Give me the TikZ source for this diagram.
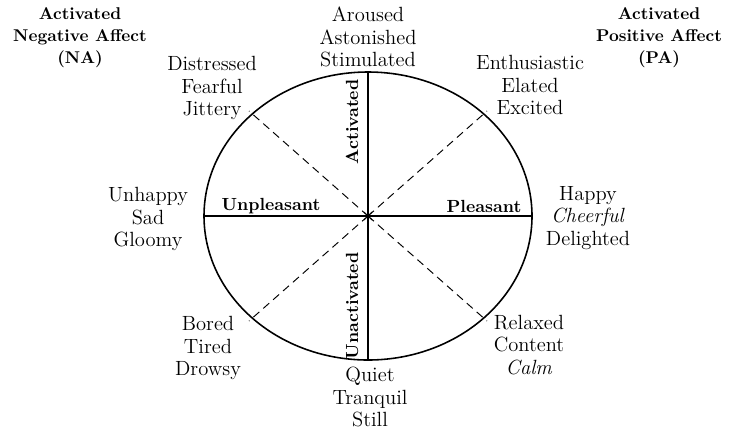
\documentclass[tikz,border=0pt]{standalone}
\usepackage{tikz}
\usetikzlibrary{positioning, calc}

\begin{document}
\begin{tikzpicture}[
    x=0.02cm, y=-0.02cm,
    word/.style={align=center, font=\fontsize{11.7}{12.6}\selectfont},
    corner/.style={align=center, font=\fontsize{9.7}{12.6}\selectfont\bfseries},
    axlab/.style={font=\fontsize{10}{12}\selectfont\bfseries},
    diag/.style={dash pattern=on 4.5pt off 3pt, line width=0.55pt},
    axisline/.style={line width=0.6pt},
  ]
  \useasboundingbox (0,0) rectangle (732,430);
  % --- circumplex ---
  \coordinate (c) at (368,216);
  \draw[line width=0.9pt] (c) ellipse [x radius=164, y radius=144];
  \coordinate (top) at (368,72);
  \coordinate (bot) at (368,360);
  \coordinate (lft) at (204,216);
  \coordinate (rgt) at (532,216);
  \draw[axisline] (top) -- (bot);
  \draw[axisline] (lft) -- (rgt);
  % dashed diagonals (45 deg on the ellipse)
  \foreach \dx/\dy in {-1/-1, 1/-1, -1/1, 1/1}{
    \draw[diag] (c) -- ++(\dx*119,\dy*105);
  }
  % centre mark
  \draw[line width=0.5pt] ($(c)+(-4,-4)$) -- ($(c)+(4,4)$) ($(c)+(-4,4)$) -- ($(c)+(4,-4)$);
  % --- axis labels ---
  \node[axlab, rotate=90] (act) at (352,122) {Activated};
  \node[axlab, rotate=90] (unact) at (352,306) {Unactivated};
  \node[axlab] (unpl) at (271,206) {Unpleasant};
  \node[axlab] (pl) at (484,206) {Pleasant};
  % --- corner titles ---
  \node[corner] (na) at (80,38) {Activated\\Negative Affect\\(NA)};
  \node[corner] (pa) at (659,38) {Activated\\Positive Affect\\(PA)};
  % --- affect words round the circle ---
  \node[word] (arousal) at (368,37) {Aroused\\Astonished\\Stimulated};
  \node[word] (distress) at (212,88) {Distressed\\Fearful\\Jittery};
  \node[word] (enthus) at (530,85) {Enthusiastic\\Elated\\Excited};
  \node[word] (unhappy) at (148,219) {Unhappy\\Sad\\Gloomy};
  \node[word] (happy) at (588,218) {Happy\\\textit{Cheerful}\\Delighted};
  \node[word] (bored) at (208,348) {Bored\\Tired\\Drowsy};
  \node[word] (quiet) at (370,397) {Quiet\\Tranquil\\Still};
  \node[word] (relaxed) at (529,345) {Relaxed\\Content\\\textit{Calm}};
\end{tikzpicture}
\end{document}
